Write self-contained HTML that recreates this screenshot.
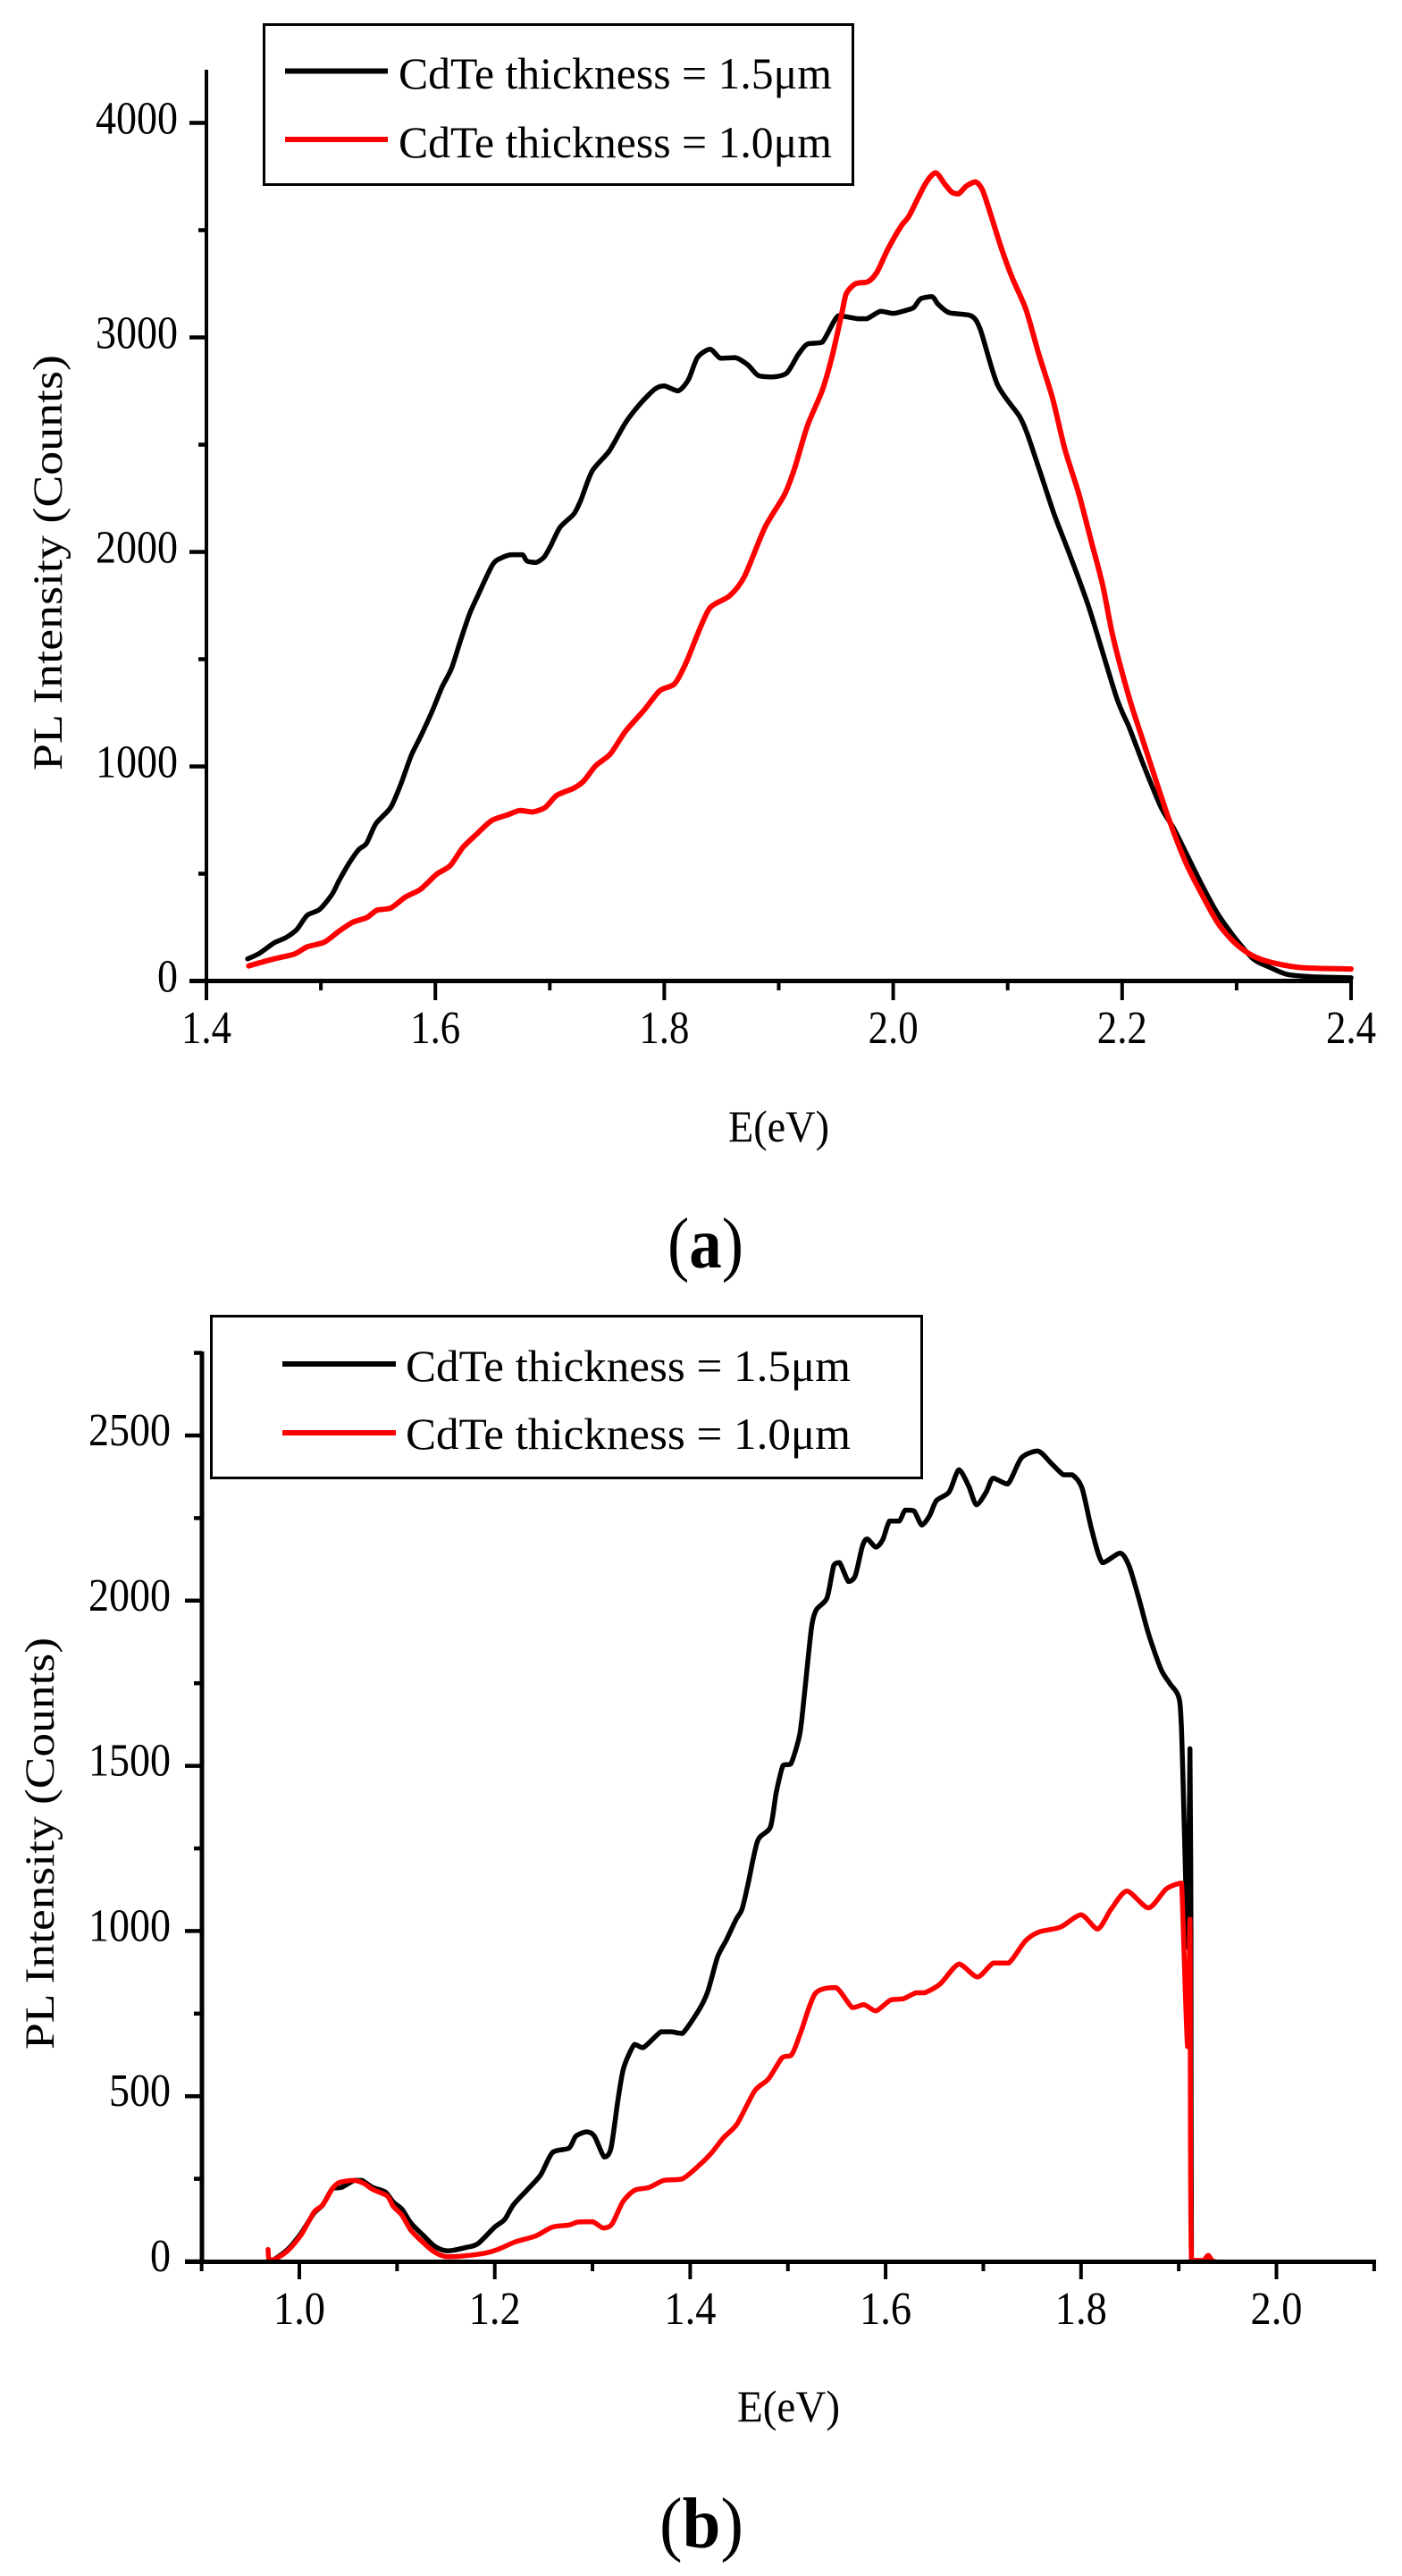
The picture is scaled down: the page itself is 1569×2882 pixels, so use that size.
<!DOCTYPE html>
<html lang="en">
<head>
<meta charset="utf-8">
<title>PL Intensity vs Energy for CdTe thicknesses</title>
<style>
html,body{margin:0;padding:0;background:#fff;}
svg{display:block;}
text{font-family:"Liberation Serif",serif;fill:#000;}
</style>
</head>
<body>
<svg id="figure" xmlns="http://www.w3.org/2000/svg" width="1569" height="2882" viewBox="0 0 1569 2882">
  <rect x="0" y="0" width="1569" height="2882" fill="#fff"/>

  <g id="chartA"></g>
  <g id="chartB"></g>

  <!-- Chart A labels -->
  <text transform="translate(69,862) rotate(-90)" font-size="47" textLength="465" lengthAdjust="spacingAndGlyphs">PL Intensity (Counts)</text>
  <text x="815" y="1277" font-size="50" textLength="113" lengthAdjust="spacingAndGlyphs">E(eV)</text>
  <text x="747" y="1418" font-size="80" textLength="85" lengthAdjust="spacingAndGlyphs">(<tspan font-weight="bold">a</tspan>)</text>

  <g>
    <rect x="295.5" y="27.5" width="659" height="179" fill="#fff" stroke="#000" stroke-width="3"/>
    <line x1="319" y1="79.5" x2="434" y2="79.5" stroke="#000" stroke-width="6"/>
    <text x="446" y="99" font-size="50" textLength="485" lengthAdjust="spacingAndGlyphs">CdTe thickness = 1.5μm</text>
    <line x1="319" y1="156" x2="434" y2="156" stroke="#f00" stroke-width="6"/>
    <text x="446" y="176" font-size="50" textLength="485" lengthAdjust="spacingAndGlyphs">CdTe thickness = 1.0μm</text>
  </g>

  <!-- Chart B labels -->
  <text transform="translate(60,2293) rotate(-90)" font-size="47" textLength="461" lengthAdjust="spacingAndGlyphs">PL Intensity (Counts)</text>
  <text x="825" y="2709" font-size="50" textLength="115" lengthAdjust="spacingAndGlyphs">E(eV)</text>
  <text x="738" y="2850" font-size="80" textLength="94" lengthAdjust="spacingAndGlyphs">(<tspan font-weight="bold">b</tspan>)</text>

  <g>
    <rect x="236.5" y="1472.5" width="795" height="181" fill="#fff" stroke="#000" stroke-width="3"/>
    <line x1="316" y1="1526" x2="443" y2="1526" stroke="#000" stroke-width="6"/>
    <text x="454" y="1545" font-size="50" textLength="498" lengthAdjust="spacingAndGlyphs">CdTe thickness = 1.5μm</text>
    <line x1="316" y1="1603" x2="443" y2="1603" stroke="#f00" stroke-width="6"/>
    <text x="454" y="1621" font-size="50" textLength="498" lengthAdjust="spacingAndGlyphs">CdTe thickness = 1.0μm</text>
  </g>
</svg>

<script>
// ---------- Chart A data ----------
const xTicksA = [1.4, 1.6, 1.8, 2.0, 2.2, 2.4];
const xTickLabelsA = ["1.4", "1.6", "1.8", "2.0", "2.2", "2.4"];
const xMinorTicksA = [1.5, 1.7, 1.9, 2.1, 2.3];
const yTicksA = [0, 1000, 2000, 3000, 4000];
const yTickLabelsA = ["0", "1000", "2000", "3000", "4000"];
const yMinorTicksA = [500, 1500, 2500, 3500];

const energyA15 = [1.436,1.446,1.459,1.469,1.479,1.488,1.499,1.510,1.516,1.525,1.533,1.540,1.548,1.561,1.570,1.579,1.588,1.598,1.606,1.614,1.622,1.630,1.637,1.650,1.658,1.666,1.676,1.680,1.688,1.695,1.701,1.709,1.721,1.727,1.737,1.752,1.766,1.779,1.792,1.800,1.812,1.821,1.829,1.840,1.849,1.862,1.873,1.882,1.895,1.907,1.917,1.925,1.938,1.952,1.969,1.977,1.989,2.000,2.011,2.018,2.024,2.034,2.039,2.049,2.068,2.076,2.091,2.110,2.117,2.128,2.141,2.154,2.171,2.195,2.206,2.219,2.234,2.245,2.258,2.271,2.284,2.300,2.315,2.328,2.344,2.365,2.400];
const countsA15 = [103,128,177,201,240,306,334,406,469,552,612,642,733,809,920,1052,1149,1267,1372,1455,1587,1712,1795,1941,1973,1987,1987,1958,1951,1976,2031,2115,2177,2240,2377,2471,2601,2691,2760,2774,2751,2802,2906,2945,2903,2906,2872,2823,2816,2834,2920,2969,2978,3101,3087,3087,3122,3112,3126,3140,3180,3190,3156,3115,3101,3038,2781,2635,2552,2378,2170,1990,1740,1323,1184,1003,809,712,573,434,309,191,101,66,31,20,15];

const energyA10 = [1.437,1.446,1.459,1.477,1.488,1.503,1.516,1.528,1.540,1.549,1.561,1.574,1.587,1.601,1.613,1.624,1.636,1.649,1.663,1.674,1.685,1.696,1.706,1.721,1.730,1.740,1.753,1.766,1.782,1.796,1.809,1.819,1.829,1.840,1.857,1.870,1.888,1.905,1.914,1.925,1.938,1.947,1.955,1.959,1.967,1.978,1.986,1.995,2.007,2.014,2.028,2.037,2.045,2.051,2.057,2.064,2.072,2.078,2.085,2.095,2.104,2.116,2.127,2.139,2.150,2.162,2.173,2.183,2.192,2.206,2.216,2.227,2.240,2.255,2.268,2.284,2.300,2.315,2.333,2.357,2.400];
const countsA10 = [70,84,103,126,159,181,233,274,295,330,340,392,427,497,538,622,684,747,774,795,788,809,865,899,934,1003,1059,1163,1260,1353,1385,1483,1615,1740,1795,1885,2115,2267,2392,2587,2753,2920,3111,3204,3250,3260,3306,3408,3520,3567,3715,3767,3715,3678,3669,3706,3725,3687,3576,3408,3278,3130,2925,2720,2478,2274,2050,1846,1604,1323,1156,976,767,559,420,267,170,115,83,62,56];

// ---------- Chart B data ----------
const xTicksB = [1.0, 1.2, 1.4, 1.6, 1.8, 2.0];
const xTickLabelsB = ["1.0", "1.2", "1.4", "1.6", "1.8", "2.0"];
const xMinorTicksB = [0.9, 1.1, 1.3, 1.5, 1.7, 1.9, 2.1];
const yTicksB = [0, 500, 1000, 1500, 2000, 2500];
const yTickLabelsB = ["0", "500", "1000", "1500", "2000", "2500"];
const yMinorTicksB = [250, 750, 1250, 1750, 2250, 2750];

const energyB15 = [0.974,0.988,1.002,1.015,1.024,1.034,1.043,1.056,1.064,1.075,1.088,1.096,1.105,1.114,1.126,1.139,1.152,1.172,1.183,1.200,1.210,1.219,1.233,1.247,1.259,1.276,1.283,1.294,1.302,1.312,1.319,1.326,1.332,1.343,1.352,1.370,1.381,1.392,1.409,1.418,1.428,1.437,1.447,1.453,1.459,1.469,1.482,1.488,1.495,1.503,1.512,1.517,1.524,1.529,1.540,1.547,1.553,1.562,1.569,1.576,1.581,1.590,1.597,1.604,1.614,1.620,1.629,1.637,1.645,1.652,1.665,1.675,1.685,1.693,1.703,1.710,1.725,1.739,1.756,1.770,1.782,1.791,1.801,1.811,1.822,1.840,1.849,1.859,1.869,1.882,1.891,1.901,1.904,1.908,1.9095,1.9115,1.9125,1.913,1.930];
const countsB15 = [5,36,86,146,171,221,224,245,245,224,210,180,158,117,81,45,32,43,54,104,126,171,216,262,329,343,379,392,379,316,343,487,586,657,647,695,695,690,761,817,921,973,1035,1066,1139,1273,1314,1418,1501,1506,1594,1718,1915,1972,2008,2107,2115,2058,2076,2163,2187,2162,2184,2241,2241,2274,2272,2229,2257,2303,2329,2396,2347,2290,2329,2371,2353,2432,2453,2414,2381,2381,2341,2214,2115,2144,2106,2009,1900,1791,1749,1695,1500,1050,950,1552,1000,0,0];

const energyB10 = [0.968,0.969,0.974,0.988,1.002,1.015,1.024,1.034,1.041,1.056,1.066,1.075,1.090,1.096,1.105,1.114,1.126,1.139,1.151,1.166,1.190,1.203,1.221,1.242,1.259,1.276,1.285,1.300,1.311,1.320,1.331,1.343,1.358,1.373,1.392,1.410,1.422,1.434,1.448,1.466,1.480,1.494,1.504,1.513,1.528,1.549,1.566,1.578,1.590,1.605,1.618,1.631,1.640,1.656,1.675,1.694,1.710,1.726,1.743,1.757,1.779,1.800,1.817,1.831,1.847,1.869,1.887,1.900,1.903,1.909,1.9115,1.913,1.925,1.930,1.934,1.937];
const countsB10 = [36,5,5,32,81,149,171,221,239,245,236,218,198,167,140,95,59,27,14,16,25,36,59,77,104,110,119,120,101,113,180,215,224,245,250,293,329,374,416,516,552,616,626,692,811,829,768,777,758,791,795,813,813,840,900,861,903,903,970,997,1012,1049,1006,1067,1121,1070,1127,1144,1145,650,1036,3,3,18,3,0];

// ---------- Axis scales ----------
function xScaleA(v) { return 231 + (v - 1.4) * 1281; }
function yScaleA(v) { return 1097.5 - v * 0.24; }
function xScaleB(v) { return 335 + (v - 1.0) * 1093.5; }
function yScaleB(v) { return 2530 - v * 0.3696; }

const NS = "http://www.w3.org/2000/svg";

function addLine(parent, x1, y1, x2, y2, width, name) {
  const el = document.createElementNS(NS, "line");
  el.setAttribute("x1", x1);
  el.setAttribute("y1", y1);
  el.setAttribute("x2", x2);
  el.setAttribute("y2", y2);
  el.setAttribute("stroke", "#000");
  el.setAttribute("stroke-width", width);
  
  
  parent.appendChild(el);
}

function addLabel(parent, str, x, y, width, name) {
  const el = document.createElementNS(NS, "text");
  el.setAttribute("x", x);
  el.setAttribute("y", y);
  el.setAttribute("font-size", "52");
  el.setAttribute("textLength", width);
  el.setAttribute("lengthAdjust", "spacingAndGlyphs");
  el.textContent = str;
  
  
  parent.appendChild(el);
}

function clampBetween(v, a, b) {
  return Math.min(Math.max(v, Math.min(a, b)), Math.max(a, b));
}

// Smooth curve through every data point; control points stay inside each
// segment's bounding box so the curve never overshoots the read values.
function smoothPath(energies, counts, xf, yf) {
  const px = energies.map(xf);
  const py = counts.map(yf);
  const k = 0.13;
  let d = "M" + px[0].toFixed(1) + " " + py[0].toFixed(1);
  for (let i = 0; i < px.length - 1; i++) {
    const a = Math.max(i - 1, 0);
    const c = i + 1;
    const e = Math.min(i + 2, px.length - 1);
    const c1x = clampBetween(px[i] + (px[c] - px[a]) * k, px[i], px[c]);
    const c1y = clampBetween(py[i] + (py[c] - py[a]) * k, py[i], py[c]);
    const c2x = clampBetween(px[c] - (px[e] - px[i]) * k, px[i], px[c]);
    const c2y = clampBetween(py[c] - (py[e] - py[i]) * k, py[i], py[c]);
    d += "C" + c1x.toFixed(1) + " " + c1y.toFixed(1) + " " + c2x.toFixed(1) + " " + c2y.toFixed(1) + " " + px[c].toFixed(1) + " " + py[c].toFixed(1);
  }
  return d;
}

function addSeries(parent, energies, counts, xf, yf, color, width, name) {
  const el = document.createElementNS(NS, "path");
  el.setAttribute("d", smoothPath(energies, counts, xf, yf));
  el.setAttribute("fill", "none");
  el.setAttribute("stroke", color);
  el.setAttribute("stroke-width", width);
  el.setAttribute("stroke-linejoin", "round");
  el.setAttribute("stroke-linecap", "round");
  
  
  parent.appendChild(el);
}

// ---------- Chart A ----------
const gA = document.getElementById("chartA");
addSeries(gA, energyA15, countsA15, xScaleA, yScaleA, "#000", 5.5, "chart-a-series-1-5um");
addSeries(gA, energyA10, countsA10, xScaleA, yScaleA, "#f00", 6, "chart-a-series-1-0um");
addLine(gA, 231, 78, 231, 1099, 4, "chart-a-y-axis-line");
addLine(gA, 212, 1097.5, 1514, 1097.5, 5, "chart-a-x-axis-line");
xTicksA.forEach(function (v, i) {
  addLine(gA, xScaleA(v), 1097, xScaleA(v), 1119, 4, "chart-a-x-tick");
  addLabel(gA, xTickLabelsA[i], xScaleA(v) - 28, 1167, 56, "chart-a-x-tick-label");
});
xMinorTicksA.forEach(function (v) {
  addLine(gA, xScaleA(v), 1097, xScaleA(v), 1108, 4, "chart-a-x-minor-tick");
});
yTicksA.forEach(function (v, i) {
  addLine(gA, 212, yScaleA(v), 231, yScaleA(v), 4.5, "chart-a-y-tick");
  const w = yTickLabelsA[i].length * 23;
  addLabel(gA, yTickLabelsA[i], 199 - w, yScaleA(v) + 12, w, "chart-a-y-tick-label");
});
yMinorTicksA.forEach(function (v) {
  addLine(gA, 222, yScaleA(v), 231, yScaleA(v), 4.5, "chart-a-y-minor-tick");
});

// ---------- Chart B ----------
const gB = document.getElementById("chartB");
addSeries(gB, energyB15, countsB15, xScaleB, yScaleB, "#000", 5.5, "chart-b-series-1-5um");
addSeries(gB, energyB10, countsB10, xScaleB, yScaleB, "#f00", 5.5, "chart-b-series-1-0um");
addLine(gB, 226, 1512, 226, 2532, 5, "chart-b-y-axis-line");
addLine(gB, 207, 2530.5, 1540, 2530.5, 5, "chart-b-x-axis-line");
xTicksB.forEach(function (v, i) {
  addLine(gB, xScaleB(v), 2530, xScaleB(v), 2550, 4, "chart-b-x-tick");
  addLabel(gB, xTickLabelsB[i], xScaleB(v) - 29, 2600, 58, "chart-b-x-tick-label");
});
xMinorTicksB.forEach(function (v) {
  addLine(gB, xScaleB(v), 2530, xScaleB(v), 2541, 4, "chart-b-x-minor-tick");
});
yTicksB.forEach(function (v, i) {
  addLine(gB, 207, yScaleB(v), 226, yScaleB(v), 4.5, "chart-b-y-tick");
  const w = yTickLabelsB[i].length * 23;
  addLabel(gB, yTickLabelsB[i], 191 - w, yScaleB(v) + 11, w, "chart-b-y-tick-label");
});
yMinorTicksB.forEach(function (v) {
  addLine(gB, 217, yScaleB(v), 226, yScaleB(v), 4.5, "chart-b-y-minor-tick");
});
</script>
</body>
</html>
